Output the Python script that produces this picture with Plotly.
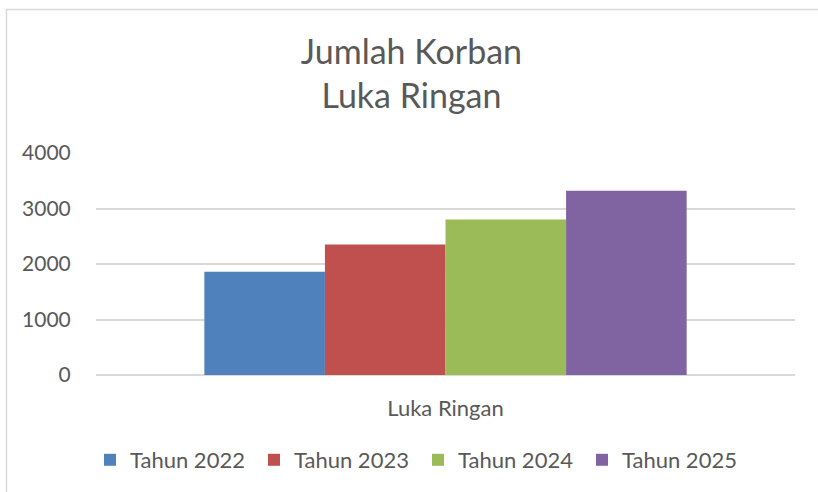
import plotly.graph_objects as go

categories = ["Luka Ringan"]
series_names = ["Tahun 2022", "Tahun 2023", "Tahun 2024", "Tahun 2025"]
series_values = [[1860], [2350], [2800], [3320]]
series_colors = ["#4F81BD", "#C0504D", "#9BBB59", "#8064A2"]
y_ticks = [0, 1000, 2000, 3000, 4000]

FONT = "Lato"
TXT = "#595959"

fig = go.Figure()
for name, vals, col in zip(series_names, series_values, series_colors):
    fig.add_trace(go.Bar(x=categories, y=vals, name=name, marker=dict(color=col, line=dict(width=0))))

W, H = 818, 492
L, R, T, B = 96, 23, 153, 117
pw, ph = W - L - R, H - T - B

def px_x(v):
    return (v - L) / pw

def px_y(v):
    return (H - B - v) / ph

fig.update_layout(
    width=W, height=H,
    margin=dict(l=L, r=R, t=T, b=B, autoexpand=False),
    paper_bgcolor="white", plot_bgcolor="white",
    barmode="group", bargap=0.31, bargroupgap=0,
    font=dict(family=FONT, color=TXT),
    title=dict(text="Jumlah Korban<br>Luka Ringan", x=0.503, xanchor="center", xref="container",
               y=1 - 64 / H, yanchor="top", yref="container",
               font=dict(family=FONT, size=34, color=TXT)),
    xaxis=dict(showgrid=False, showline=False, zeroline=False,
               ticks="outside", ticklen=14, tickcolor="rgba(0,0,0,0)",
               tickfont=dict(family=FONT, size=22, color=TXT)),
    yaxis=dict(range=[0, 4000], tickvals=y_ticks, showgrid=True, gridcolor="#d9d9d9", gridwidth=1.5,
               zeroline=True, zerolinecolor="#d9d9d9", zerolinewidth=1.5, showline=False,
               ticks="outside", ticklen=20, tickcolor="rgba(0,0,0,0)",
               tickfont=dict(family=FONT, size=21, color=TXT)),
    legend=dict(orientation="h", x=px_x(418), xanchor="center", y=px_y(460), yanchor="middle",
                font=dict(family=FONT, size=22, color=TXT), itemwidth=30,
                entrywidth=119, entrywidthmode="pixels",
                traceorder="normal", bgcolor="rgba(0,0,0,0)"),
    shapes=[dict(type="rect", xref="paper", yref="paper",
                 x0=px_x(6.5), x1=px_x(840), y0=px_y(520), y1=px_y(9.5),
                 line=dict(color="#d9d9d9", width=1.5), fillcolor="rgba(0,0,0,0)", layer="below")],
)

fig.write_html("out.html", config={"displayModeBar": False},
               post_script="document.body.style.margin='0';")
